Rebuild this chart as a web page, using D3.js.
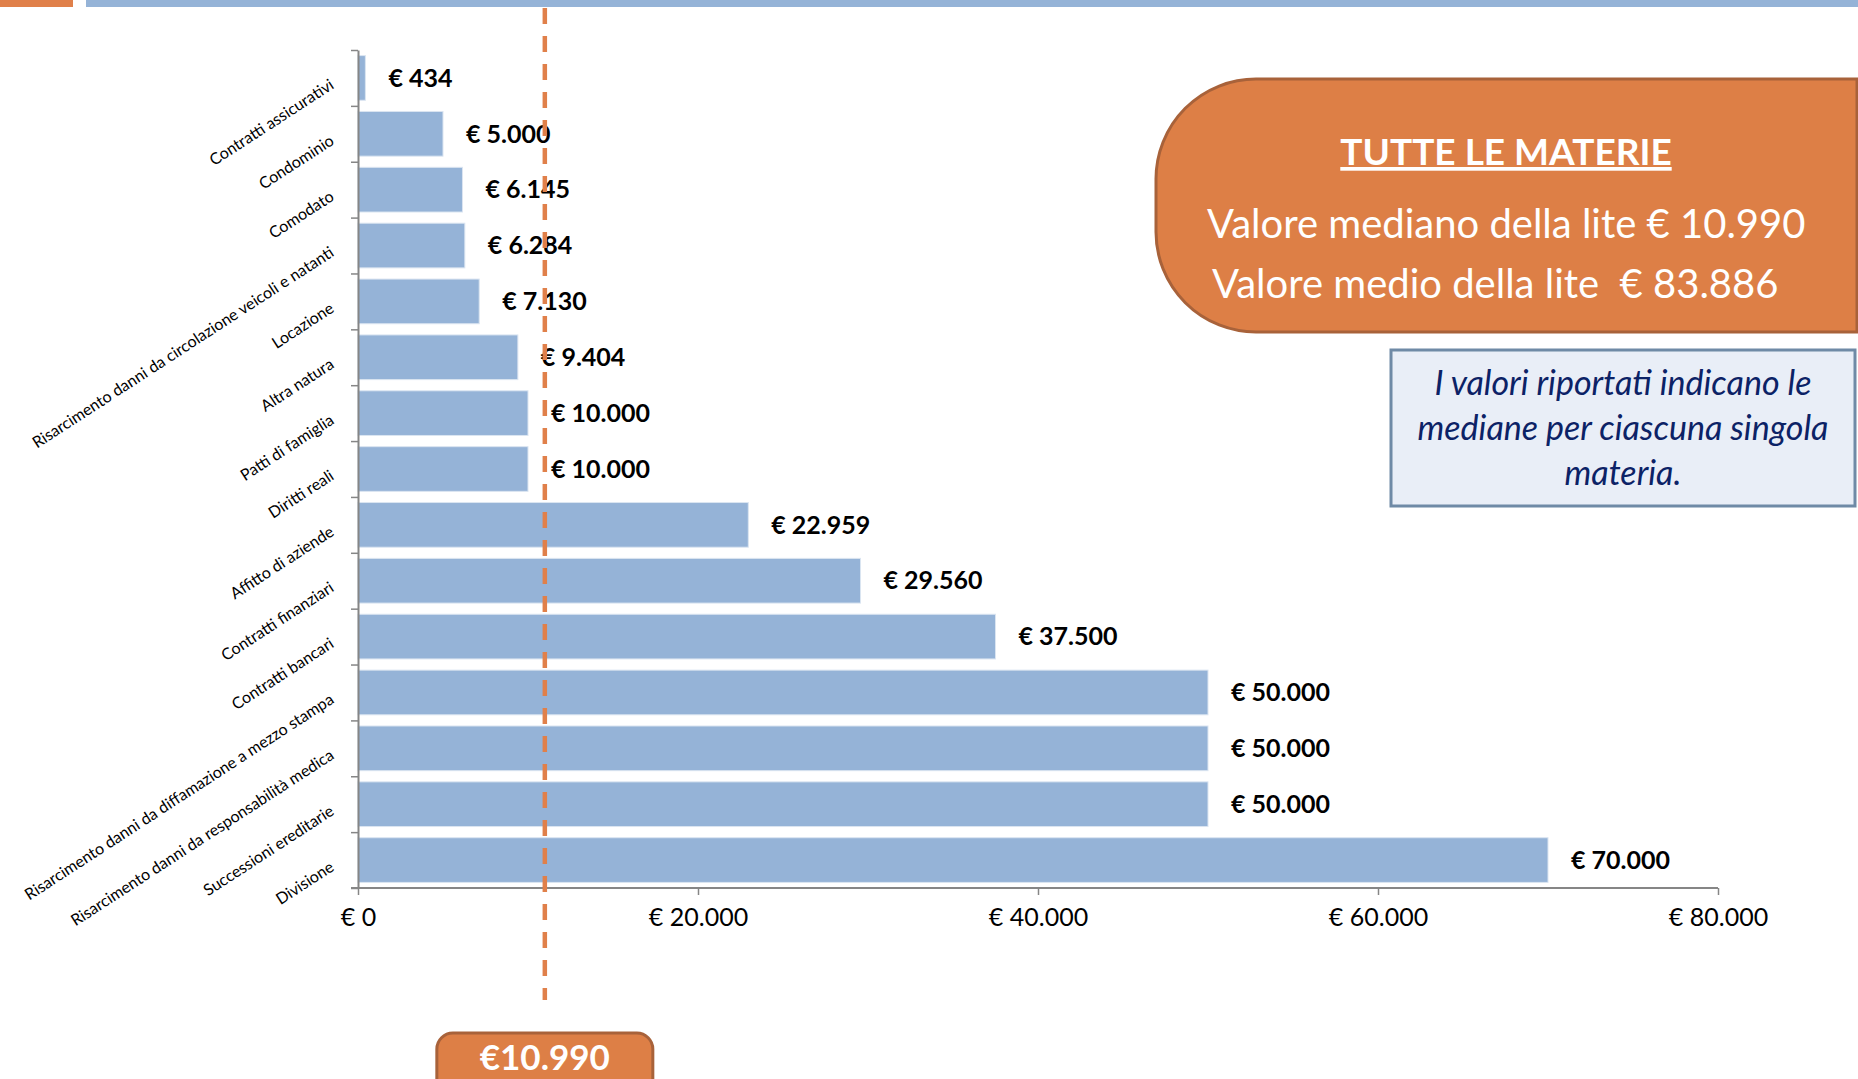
<!DOCTYPE html>
<html>
<head>
<meta charset="utf-8">
<script src="https://cdn.jsdelivr.net/npm/d3@7"></script>
<style>
  html, body { margin: 0; padding: 0; background: #fff; }
  #chart { width: 1858px; height: 1079px; overflow: hidden; }
  text { font-family: Lato, "Open Sans", sans-serif; }
</style>
</head>
<body>
<div id="chart"></div>
<script>
// Mediane del valore della lite per materia
const categories = [
    "Contratti assicurativi",
    "Condominio",
    "Comodato",
    "Risarcimento danni da circolazione veicoli e natanti",
    "Locazione",
    "Altra natura",
    "Patti di famiglia",
    "Diritti reali",
    "Affitto di aziende",
    "Contratti finanziari",
    "Contratti bancari",
    "Risarcimento danni da diffamazione a mezzo stampa",
    "Risarcimento danni da responsabilità medica",
    "Successioni ereditarie",
    "Divisione"
];
const values = [434, 5000, 6145, 6284, 7130, 9404, 10000, 10000, 22959, 29560, 37500, 50000, 50000, 50000, 70000];
const xTicks = [0, 20000, 40000, 60000, 80000];
const medianAll = 10990;
const meanAll = 83886;

function renderChart() {
    d3.select("#chart").selectAll("*").remove();

    const width = 1858, height = 1079;
    const left = 358, right = 1718, top = 50, bottom = 888;

    const it = d3.formatLocale({ decimal: ",", thousands: ".", grouping: [3], currency: ["€ ", ""] });
    const fmt = it.format(",.0f");
    const euro = d => "€ " + fmt(d);

    const svg = d3.select("#chart")
        .append("svg")
        .attr("width", width)
        .attr("height", height);

    // Header strip
    svg.append("rect").attr("x", 0).attr("y", 0).attr("width", 73).attr("height", 7).attr("fill", "#e0804a");
    svg.append("rect").attr("x", 86).attr("y", 0).attr("width", width - 86).attr("height", 7).attr("fill", "#95b3d7");

    // Scales
    const x = d3.scaleLinear().domain([0, 80000]).range([left, right]);
    const y = d3.scaleBand().domain(categories).range([top, bottom]).paddingInner(0.2).paddingOuter(0.1);
    const yEdges = d3.scaleLinear().domain([0, categories.length]).range([top, bottom]);

    // Bars
    svg.append("g")
        .selectAll("rect")
        .data(categories)
        .enter()
        .append("rect")
        .attr("x", x(0))
        .attr("y", d => y(d))
        .attr("width", (d, i) => x(values[i]) - x(0))
        .attr("height", y.bandwidth())
        .attr("fill", "#95b3d7")
        .attr("stroke", "#dbe5f1")
        .attr("stroke-width", 1);

    // Y axis (ticks at band edges)
    const yAxis = svg.append("g")
        .attr("transform", `translate(${left},0)`)
        .call(d3.axisLeft(yEdges)
            .tickValues(d3.range(categories.length + 1))
            .tickFormat("")
            .tickSize(7)
            .tickSizeOuter(0));
    yAxis.select(".domain").attr("stroke", "#868686").attr("stroke-width", 2);
    yAxis.selectAll("line").attr("stroke", "#868686").attr("stroke-width", 1.5);

    // Category labels, rotated
    svg.append("g")
        .selectAll("text")
        .data(categories)
        .enter()
        .append("text")
        .attr("transform", d => `translate(332,${y(d) + y.bandwidth() / 2 + 5}) rotate(-33)`)
        .attr("text-anchor", "end")
        .attr("dy", "0.35em")
        .attr("fill", "#000")
        .style("font-size", "16px")
        .text(d => d);

    // X axis
    const xAxis = svg.append("g")
        .attr("transform", `translate(0,${bottom})`)
        .call(d3.axisBottom(x)
            .tickValues(xTicks)
            .tickFormat(euro)
            .tickSize(7)
            .tickSizeOuter(0)
            .tickPadding(13));
    xAxis.select(".domain").attr("stroke", "#868686").attr("stroke-width", 2)
        .attr("d", `M${left - 7},0H${right}`);
    xAxis.selectAll("line").attr("stroke", "#868686").attr("stroke-width", 1.5);
    xAxis.selectAll("text")
        .attr("fill", "#000")
        .style("font-family", "Lato, sans-serif")
        .style("font-size", "25px");

    // Value labels
    svg.append("g")
        .selectAll("text")
        .data(categories)
        .enter()
        .append("text")
        .attr("x", (d, i) => x(values[i]) + 23)
        .attr("y", d => y(d) + y.bandwidth() / 2)
        .attr("dy", "0.35em")
        .attr("fill", "#000")
        .style("font-size", "25px")
        .style("font-weight", "700")
        .text((d, i) => euro(values[i]));

    // Median dashed line
    svg.append("line")
        .attr("x1", x(medianAll))
        .attr("x2", x(medianAll))
        .attr("y1", 8)
        .attr("y2", 1000)
        .attr("stroke", "#e0804a")
        .attr("stroke-width", 4.5)
        .attr("stroke-dasharray", "16,12");

    // Median tag at the bottom
    svg.append("rect")
        .attr("x", x(medianAll) - 108)
        .attr("y", 1033)
        .attr("width", 216)
        .attr("height", 70)
        .attr("rx", 16)
        .attr("fill", "#dd7f46")
        .attr("stroke", "#a8623a")
        .attr("stroke-width", 3);
    svg.append("text")
        .attr("x", x(medianAll))
        .attr("y", 1070)
        .attr("text-anchor", "middle")
        .attr("fill", "#fff")
        .style("font-size", "35px")
        .style("font-weight", "700")
        .text("€" + fmt(medianAll));

    // Summary box "TUTTE LE MATERIE"
    const bx0 = 1156, bx1 = 1857, by0 = 79, by1 = 332, r = 100;
    svg.append("path")
        .attr("d", `M${bx0 + r},${by0}H${bx1}V${by1}H${bx0 + r}A${r},${r} 0 0 1 ${bx0},${by1 - r}V${by0 + r}A${r},${r} 0 0 1 ${bx0 + r},${by0}Z`)
        .attr("fill", "#dd7f46")
        .attr("stroke", "#a8623a")
        .attr("stroke-width", 3);
    svg.append("text")
        .attr("x", 1506)
        .attr("y", 165)
        .attr("text-anchor", "middle")
        .attr("fill", "#fff")
        .style("font-size", "37px")
        .style("font-weight", "700")
        .style("text-decoration", "underline")
        .text("TUTTE LE MATERIE");
    svg.append("text")
        .attr("x", 1207)
        .attr("y", 238)
        .attr("fill", "#fff")
        .style("font-size", "40px")
        .text("Valore mediano della lite € " + fmt(medianAll));
    svg.append("text")
        .attr("x", 1212)
        .attr("y", 298)
        .attr("fill", "#fff")
        .style("font-size", "40px")
        .style("white-space", "pre")
        .text("Valore medio della lite  € " + fmt(meanAll));

    // Note box
    svg.append("rect")
        .attr("x", 1391)
        .attr("y", 350)
        .attr("width", 464)
        .attr("height", 156)
        .attr("fill", "#e9eef7")
        .attr("stroke", "#6f8aa6")
        .attr("stroke-width", 3);
    const note = ["I valori riportati indicano le", "mediane per ciascuna singola", "materia."];
    svg.append("g")
        .selectAll("text")
        .data(note)
        .enter()
        .append("text")
        .attr("x", 1623)
        .attr("y", (d, i) => 395 + i * 45)
        .attr("text-anchor", "middle")
        .attr("fill", "#0c2266")
        .style("font-size", "34px")
        .style("font-style", "italic")
        .text(d => d);
}

renderChart();
</script>
</body>
</html>
